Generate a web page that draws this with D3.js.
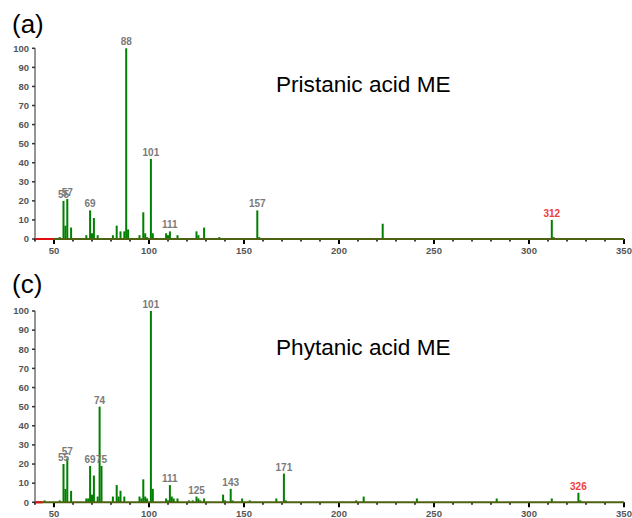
<!DOCTYPE html>
<html>
<head>
<meta charset="utf-8">
<script src="https://cdn.jsdelivr.net/npm/d3@7"></script>
<style>
  html, body { margin: 0; padding: 0; background: #fff; }
  svg { display: block; }
  text { font-family: "Liberation Sans", Arial, sans-serif; }
</style>
</head>
<body>
<svg id="chart" width="632" height="518"></svg>
<script>
// Mass spectrum of pristanic acid methyl ester: m/z and relative intensity (%)
const pristanicMz = [53, 55, 56, 57, 59, 67, 69, 70, 71, 73, 81, 83, 85, 87, 88, 89, 95, 97, 98, 99, 101, 102,
  109, 110, 111, 115, 125, 126, 129, 137, 157, 158, 223, 312, 313];
const pristanicInt = [1, 20, 7, 21, 6, 2, 15, 3, 11, 2, 2, 7, 4, 4, 100, 5, 2, 14, 3, 1, 42, 3,
  3, 2, 4, 2, 4, 2, 6, 1, 15, 1, 8, 10, 1];
const pristanicLabels = [55, 57, 69, 88, 101, 111, 157];
const pristanicIon = 312;
const pristanicScanStart = 50;

// Mass spectrum of phytanic acid methyl ester
const phytanicMz = [45, 53, 55, 56, 57, 59, 67, 68, 69, 70, 71, 73, 74, 75, 81, 83, 84, 85, 87, 95, 96, 97, 98, 99,
  101, 102, 109, 110, 111, 112, 113, 115, 121, 123, 125, 126, 127, 129, 139, 140, 143, 144, 149, 153, 167,
  171, 172, 209, 213, 241, 283, 312, 326, 327];
const phytanicInt = [1, 1, 20, 7, 23, 6, 2, 2, 19, 4, 14, 3, 50, 19, 3, 9, 3, 6, 3, 3, 2, 12, 3, 2,
  100, 7, 2, 1, 9, 3, 2, 2, 1, 1, 3, 2, 1, 2, 4, 1, 7, 1, 2, 1, 2,
  15, 1, 1, 3, 2, 2, 2, 5, 1];
const phytanicLabels = [55, 57, 69, 74, 75, 101, 111, 125, 143, 171];
const phytanicIon = 326;
const phytanicScanStart = 44;

const yTicks = d3.range(0, 101, 10);
const xMajorTicks = [50, 100, 150, 200, 250, 300, 350];
const xMinorTicks = d3.range(40, 351, 10).filter(v => v % 50 !== 0);

const svg = d3.select("#chart");
const x = d3.scaleLinear().domain([40, 350]).range([35, 624]);

const panels = [
  { tag: "(a)", title: "Pristanic acid ME", mz: pristanicMz, int: pristanicInt, labels: pristanicLabels,
    ion: pristanicIon, scanStart: pristanicScanStart, top: 48.3, bottom: 239, tagY: 33, titleY: 91.5 },
  { tag: "(c)", title: "Phytanic acid ME", mz: phytanicMz, int: phytanicInt, labels: phytanicLabels,
    ion: phytanicIon, scanStart: phytanicScanStart, top: 311, bottom: 502.3, tagY: 293, titleY: 354.5 }
];

panels.forEach(p => {
  const y = d3.scaleLinear().domain([0, 100]).range([p.bottom, p.top]);
  const g = svg.append("g");
  const peaks = p.mz.map((m, i) => ({ mz: m, int: p.int[i] }));

  // panel tag and compound name
  g.append("text").attr("x", 12).attr("y", p.tagY)
    .attr("font-size", 26).attr("fill", "#000").text(p.tag);
  g.append("text").attr("x", 276).attr("y", p.titleY)
    .attr("font-size", 22.6).attr("fill", "#000").text(p.title);

  // y axis
  g.append("line").attr("x1", x(40)).attr("x2", x(40))
    .attr("y1", y(0)).attr("y2", y(100)).attr("stroke", "#707070").attr("stroke-width", 1.5);
  g.selectAll(".ytick").data(yTicks).join("line")
    .attr("x1", x(40) - 3).attr("x2", x(40)).attr("y1", d => y(d)).attr("y2", d => y(d))
    .attr("stroke", "#333").attr("stroke-width", 1.5);
  g.selectAll(".ylab").data(yTicks).join("text")
    .attr("x", x(40) - 6).attr("y", d => y(d) + 3.3)
    .attr("text-anchor", "end").attr("font-size", 9.5).attr("font-weight", "bold")
    .attr("fill", "#555").text(d => d);

  // x ticks
  g.selectAll(".xmaj").data(xMajorTicks).join("line")
    .attr("x1", d => x(d)).attr("x2", d => x(d)).attr("y1", y(0)).attr("y2", y(0) + 5)
    .attr("stroke", "#000").attr("stroke-width", 2);
  g.selectAll(".xmin").data(xMinorTicks).join("line")
    .attr("x1", d => x(d)).attr("x2", d => x(d)).attr("y1", y(0)).attr("y2", y(0) + 2.5)
    .attr("stroke", "#000").attr("stroke-width", 1.5);
  g.selectAll(".xlab").data(xMajorTicks).join("text")
    .attr("x", d => x(d)).attr("y", y(0) + 15)
    .attr("text-anchor", "middle").attr("font-size", 9.5).attr("font-weight", "bold")
    .attr("fill", "#555").text(d => d);

  // bars
  g.selectAll(".bar").data(peaks).join("rect")
    .attr("x", d => x(d.mz) - 1).attr("width", 2)
    .attr("y", d => y(d.int)).attr("height", d => y(0) - y(d.int))
    .attr("fill", "#008000");

  // baseline with the sub-range segment in red
  g.append("line").attr("x1", x(40)).attr("x2", x(350)).attr("y1", y(0)).attr("y2", y(0))
    .attr("stroke", "#4f6212").attr("stroke-width", 2);
  g.append("line").attr("x1", x(40)).attr("x2", x(p.scanStart)).attr("y1", y(0)).attr("y2", y(0))
    .attr("stroke", "#e01010").attr("stroke-width", 2);

  // peak labels
  const labelled = peaks.filter(d => p.labels.includes(d.mz));
  g.selectAll(".plab").data(labelled).join("text")
    .attr("x", d => x(d.mz)).attr("y", d => y(d.int) - 3)
    .attr("text-anchor", "middle").attr("font-size", 10).attr("font-weight", "bold")
    .attr("fill", "#7a7a7a").text(d => d.mz);
  const ion = peaks.find(d => d.mz === p.ion);
  g.append("text").attr("x", x(ion.mz)).attr("y", y(ion.int) - 3)
    .attr("text-anchor", "middle").attr("font-size", 10).attr("font-weight", "bold")
    .attr("fill", "#f03c3c").text(ion.mz);
});
</script>
</body>
</html>
